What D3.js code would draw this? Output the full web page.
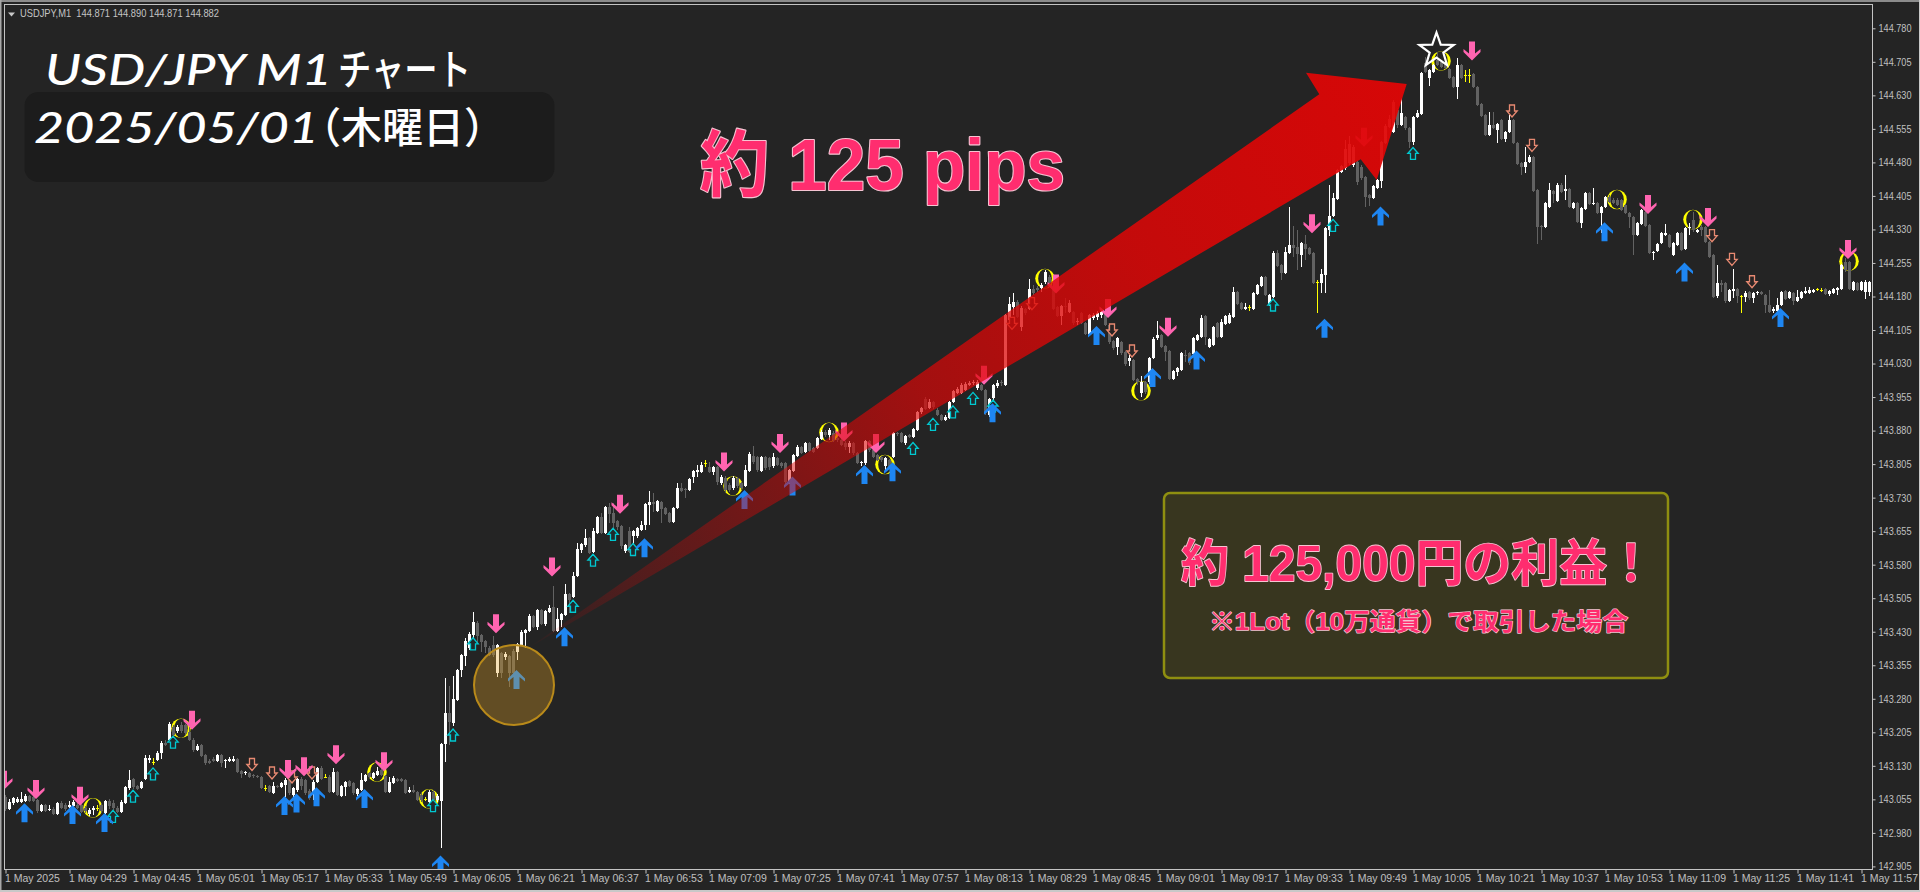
<!DOCTYPE html>
<html lang="ja"><head><meta charset="utf-8"><title>USD/JPY M1</title>
<script src="https://cdn.jsdelivr.net/npm/d3@7"></script>
<style>html,body{margin:0;padding:0;background:#242424;overflow:hidden}svg{display:block}</style>
</head><body><svg id="c" width="1920" height="892"></svg>
<script>
const priceTicks=[144.780,144.705,144.630,144.555,144.480,144.405,144.330,144.255,144.180,144.105,144.030,143.955,143.880,143.805,143.730,143.655,143.580,143.505,143.430,143.355,143.280,143.205,143.130,143.055,142.980,142.905];
const timeLabels=["1 May 2025","1 May 04:29","1 May 04:45","1 May 05:01","1 May 05:17","1 May 05:33","1 May 05:49","1 May 06:05","1 May 06:21","1 May 06:37","1 May 06:53","1 May 07:09","1 May 07:25","1 May 07:41","1 May 07:57","1 May 08:13","1 May 08:29","1 May 08:45","1 May 09:01","1 May 09:17","1 May 09:33","1 May 09:49","1 May 10:05","1 May 10:21","1 May 10:37","1 May 10:53","1 May 11:09","1 May 11:25","1 May 11:41","1 May 11:57"];
const candleKinds=("gwwwwwgggw gwgwggwwgg gwwygwgggw wwggwwwyww gwgwggggwg gggwgwwwgg wggggygwgw wgwwgggwwg ygwgwwggww wgwwggwwgg gwgggywgww wgwwwwwwgg gggwgwggww wwwgwggww w".replace(/ /g,"").slice(0,0)+
"gwwwwwgggw gwgwggwwgg gwwygwgggw wwggwwwyww gwgwggggwg gggwgwwwgg wggggygwgw wgwwgggwwg ygwgwwggww wgwwggwwgg gwgggywgww wgwwwwwwgg ggwgwwgww".slice(0,0)+
"gwwwwwgggw gwgwggwwgg gwwygwgggw wwggwwwyww gwgwggggwg gggwgwwwgg wggggygwgw wgwwgggwwg ygwgwwggww wgwwggwwgg gwgggywgww wgwwwwwwgg gggwgwggww wwgwgwwgww wgwwwwgwwg wggggwgwww wwgwgggwwg gwwwwygwgw ggwggwwggw ggwgggwwwg wggwwgwggg gwggwwgggg wgwggwgwww gwgggwwwww wwwwggwwwg wwwgwgwggw wgggwgwgwg gwwwwggg wg gwggwgwwwg ggwwwggwww gwwgwwwwgg wywwwgwwgg wwggwgggyw wwwwwwwwgg ggwwwwwwgw ggwwwgwwgg gggwgyyggg gwgwgwwggg wwgggwwgwg wgwgwwgwgw wggggggg ww ggwwwwgwwg wwgwgggg wg gwwgywgwwg ggwwwgwgww wwwyygwwww ggwgwww").replace(/ /g,"").split("");
const bodyTops=[143.060,143.049,143.058,143.056,143.056,143.062,143.062,143.060,143.053,143.042,
143.042,143.033,143.033,143.047,143.047,143.042,143.042,143.049,143.042,143.042,
143.035,143.031,143.035,143.035,143.042,143.051,143.051,143.047,143.035,143.049,
143.082,143.098,143.100,143.085,143.094,143.147,143.147,143.138,143.158,143.181,
143.181,143.223,143.217,143.217,143.221,143.221,143.205,143.188,143.174,143.176,
143.154,143.141,143.145,143.154,143.154,143.143,143.145,143.145,143.145,143.118,
143.116,143.114,143.109,143.107,143.105,143.080,143.085,143.085,143.085,143.091,
143.098,143.098,143.080,143.100,143.100,143.098,143.073,143.094,143.125,143.125,
143.105,143.105,143.116,143.116,143.085,143.094,143.096,143.091,143.078,143.098,
143.109,143.114,143.114,143.118,143.120,143.107,143.094,143.103,143.100,143.100,
143.098,143.076,143.076,143.071,143.065,143.056,143.071,143.071,143.062,143.179,
143.248,143.248,143.279,143.344,143.378,143.409,143.425,143.452,143.449,143.422,
143.409,143.393,143.400,143.400,143.382,143.380,143.376,143.387,143.402,143.429,
143.434,143.465,143.465,143.478,143.478,143.476,143.483,143.485,143.458,143.470,
143.514,143.514,143.554,143.615,143.626,143.639,143.639,143.655,143.686,143.686,
143.709,143.709,143.695,143.677,143.666,143.624,143.655,143.655,143.662,143.669,
143.716,143.720,143.720,143.722,143.720,143.707,143.695,143.707,143.751,143.751,
143.749,143.771,143.789,143.792,143.803,143.807,143.798,143.798,143.798,143.776,
143.774,143.758,143.774,143.774,143.763,143.792,143.827,143.823,143.821,143.821,
143.821,143.818,143.821,143.818,143.807,143.807,143.792,143.825,143.843,143.843,
143.852,143.852,143.841,143.863,143.877,143.877,143.881,143.874,143.863,143.859,
143.852,143.852,143.852,143.830,143.810,143.857,143.857,143.836,143.825,143.821,
143.818,143.814,143.874,143.874,143.874,143.868,143.870,143.883,143.921,143.930,
143.950,143.944,143.944,143.926,143.915,143.910,143.944,143.968,143.973,143.982,
143.984,143.986,143.988,143.988,143.982,143.971,143.950,143.982,143.986,143.988,
144.138,144.163,144.167,144.167,144.154,144.152,144.196,144.196,144.199,144.205,
144.235,144.223,144.210,144.156,144.158,144.158,144.165,144.145,144.125,144.143,
144.120,144.138,144.138,144.143,144.145,144.143,144.116,144.080,144.087,144.078,
144.056,144.042,144.038,143.995,143.988,143.988,144.042,144.085,144.094,144.094,
144.069,144.058,144.013,144.020,144.053,144.049,144.053,144.087,144.094,144.132,
144.136,144.085,144.111,144.120,144.123,144.136,144.138,144.190,144.190,144.165,
144.156,144.156,144.188,144.205,144.223,144.223,144.183,144.277,144.277,144.250,
144.279,144.295,144.295,144.290,144.299,144.297,144.288,144.277,144.212,144.230,
144.333,144.360,144.400,144.463,144.472,144.510,144.521,144.514,144.481,144.469,
144.447,144.407,144.427,144.440,144.525,144.561,144.577,144.615,144.597,144.590,
144.581,144.557,144.581,144.590,144.680,144.702,144.686,144.698,144.709,144.704,
144.702,144.689,144.671,144.698,144.698,144.675,144.675,144.677,144.648,144.610,
144.586,144.563,144.563,144.566,144.575,144.548,144.575,144.575,144.523,144.478,
144.481,144.492,144.492,144.418,144.337,144.389,144.418,144.416,144.429,144.429,
144.420,144.420,144.389,144.389,144.378,144.411,144.411,144.389,144.389,144.380,
144.402,144.402,144.396,144.396,144.396,144.384,144.366,144.358,144.344,144.373,
144.369,144.340,144.279,144.297,144.322,144.322,144.317,144.299,144.322,144.322,
144.333,144.335,144.351,144.328,144.335,144.335,144.302,144.273,144.210,144.210,
144.210,144.194,144.196,144.196,144.181,144.188,144.190,144.188,144.190,144.190,
144.183,144.161,144.152,144.161,144.190,144.192,144.190,144.188,144.179,144.190,
144.192,144.194,144.194,144.196,144.194,144.196,144.192,144.196,144.199,144.250,
144.257,144.257,144.212,144.210,144.212,144.212,144.212];
const bodyBottoms=[143.033,143.033,143.047,143.049,143.049,143.051,143.051,143.051,143.029,143.029,
143.029,143.031,143.022,143.022,143.035,143.033,143.038,143.040,143.035,143.026,
143.029,143.022,143.031,143.035,143.029,143.024,143.040,143.035,143.026,143.026,
143.047,143.080,143.082,143.078,143.080,143.100,143.143,143.138,143.143,143.158,
143.176,143.188,143.199,143.208,143.208,143.203,143.188,143.165,143.165,143.152,
143.136,143.136,143.141,143.141,143.136,143.141,143.141,143.141,143.116,143.112,
143.114,143.105,143.107,143.105,143.080,143.080,143.071,143.069,143.082,143.082,
143.087,143.069,143.065,143.076,143.085,143.069,143.058,143.071,143.094,143.100,
143.105,143.071,143.071,143.065,143.062,143.082,143.085,143.069,143.067,143.076,
143.096,143.105,143.103,143.109,143.109,143.071,143.071,143.091,143.096,143.096,
143.069,143.071,143.071,143.053,143.053,143.056,143.049,143.053,143.053,143.051,
143.179,143.228,143.226,143.277,143.344,143.376,143.393,143.422,143.420,143.407,
143.396,143.378,143.378,143.337,143.337,143.373,143.337,143.337,143.385,143.400,
143.427,143.431,143.440,143.440,143.447,143.447,143.474,143.431,143.431,143.456,
143.467,143.501,143.507,143.554,143.613,143.624,143.606,143.608,143.651,143.651,
143.651,143.693,143.673,143.664,143.622,143.610,143.608,143.644,143.644,143.657,
143.669,143.713,143.716,143.700,143.704,143.693,143.675,143.675,143.707,143.745,
143.747,143.747,143.776,143.787,143.787,143.807,143.787,143.787,143.765,143.763,
143.747,143.747,143.751,143.756,143.751,143.756,143.789,143.810,143.792,143.789,
143.796,143.798,143.801,143.803,143.801,143.765,143.765,143.789,143.823,143.830,
143.832,143.834,143.832,143.841,143.861,143.870,143.870,143.859,143.859,143.848,
143.843,143.843,143.830,143.807,143.807,143.807,143.836,143.821,143.814,143.814,
143.801,143.798,143.821,143.872,143.854,143.852,143.865,143.865,143.881,143.921,
143.928,143.930,143.933,143.915,143.903,143.903,143.908,143.944,143.964,143.964,
143.971,143.982,143.986,143.975,143.971,143.919,143.915,143.953,143.980,143.986,
143.982,144.127,144.156,144.134,144.111,144.143,144.152,144.188,144.194,144.199,
144.212,144.210,144.152,144.136,144.136,144.156,144.145,144.120,144.123,144.120,
144.096,144.096,144.132,144.134,144.138,144.116,144.078,144.065,144.067,144.053,
144.029,144.035,143.993,143.988,143.964,143.966,143.988,144.042,144.087,144.067,
144.056,143.995,143.995,144.011,144.015,144.047,144.031,144.051,144.082,144.089,
144.089,144.067,144.071,144.089,144.089,144.118,144.120,144.134,144.163,144.152,
144.152,144.156,144.152,144.185,144.203,144.183,144.161,144.179,144.248,144.232,
144.232,144.277,144.288,144.275,144.273,144.286,144.275,144.210,144.212,144.210,
144.228,144.328,144.360,144.398,144.458,144.467,144.478,144.474,144.436,144.445,
144.402,144.400,144.400,144.422,144.438,144.523,144.559,144.548,144.563,144.563,
144.557,144.525,144.525,144.581,144.588,144.682,144.668,144.682,144.698,144.693,
144.691,144.668,144.648,144.648,144.668,144.675,144.675,144.648,144.608,144.584,
144.541,144.541,144.557,144.552,144.532,144.532,144.548,144.523,144.476,144.469,
144.469,144.481,144.416,144.335,144.335,144.335,144.380,144.409,144.393,144.413,
144.416,144.380,144.378,144.346,144.344,144.375,144.387,144.387,144.366,144.366,
144.380,144.391,144.389,144.384,144.373,144.366,144.358,144.317,144.317,144.342,
144.337,144.277,144.277,144.282,144.299,144.317,144.290,144.273,144.295,144.284,
144.286,144.333,144.328,144.324,144.328,144.302,144.268,144.179,144.181,144.205,
144.170,144.170,144.192,144.181,144.181,144.179,144.176,144.176,144.188,144.185,
144.161,144.145,144.147,144.147,144.161,144.174,144.176,144.170,144.170,144.176,
144.188,144.188,144.190,144.196,144.194,144.185,144.185,144.188,144.194,144.196,
144.239,144.196,144.194,144.194,144.194,144.190,144.190];
const highs=[143.065,143.056,143.060,143.060,143.071,143.067,143.065,143.065,143.056,143.044,
143.044,143.042,143.038,143.049,143.051,143.047,143.051,143.053,143.047,143.044,
143.040,143.035,143.040,143.042,143.047,143.053,143.056,143.053,143.040,143.053,
143.085,143.120,143.103,143.087,143.096,143.154,143.154,143.147,143.163,143.185,
143.188,143.228,143.221,143.221,143.228,143.223,143.221,143.192,143.179,143.179,
143.156,143.145,143.149,143.156,143.156,143.145,143.149,143.152,143.147,143.120,
143.118,143.116,143.112,143.109,143.107,143.087,143.087,143.094,143.087,143.094,
143.103,143.103,143.082,143.103,143.105,143.100,143.078,143.098,143.127,143.129,
143.112,143.109,143.125,143.118,143.087,143.096,143.098,143.094,143.080,143.114,
143.112,143.116,143.116,143.127,143.125,143.109,143.105,143.107,143.103,143.103,
143.100,143.082,143.087,143.073,143.069,143.060,143.076,143.076,143.067,143.181,
143.326,143.308,143.331,143.346,143.380,143.416,143.429,143.474,143.454,143.425,
143.411,143.398,143.420,143.402,143.384,143.384,143.378,143.391,143.405,143.434,
143.436,143.470,143.467,143.481,143.481,143.478,143.490,143.532,143.483,143.472,
143.537,143.516,143.563,143.628,143.628,143.660,143.642,143.662,143.689,143.695,
143.711,143.718,143.718,143.680,143.669,143.626,143.664,143.657,143.664,143.677,
143.718,143.745,143.740,143.724,143.722,143.709,143.698,143.709,143.763,143.763,
143.751,143.774,143.792,143.803,143.810,143.814,143.810,143.801,143.801,143.780,
143.778,143.763,143.778,143.776,143.765,143.803,143.832,143.845,143.823,143.823,
143.823,143.821,143.830,143.821,143.810,143.810,143.794,143.827,143.848,143.845,
143.854,143.854,143.843,143.865,143.881,143.881,143.886,143.879,143.865,143.863,
143.857,143.857,143.854,143.832,143.812,143.859,143.859,143.839,143.827,143.823,
143.821,143.816,143.877,143.877,143.877,143.870,143.872,143.886,143.924,143.933,
143.955,143.950,143.946,143.930,143.917,143.915,143.946,143.971,143.977,143.986,
143.988,143.991,143.993,143.993,143.984,143.973,143.953,143.984,143.993,143.993,
144.141,144.179,144.188,144.172,144.158,144.154,144.219,144.205,144.203,144.210,
144.239,144.228,144.212,144.158,144.161,144.176,144.172,144.147,144.132,144.145,
144.123,144.141,144.143,144.147,144.150,144.145,144.118,144.082,144.089,144.080,
144.058,144.049,144.040,143.997,144.002,143.991,144.044,144.089,144.125,144.096,
144.071,144.060,144.015,144.022,144.056,144.060,144.056,144.089,144.096,144.138,
144.138,144.087,144.114,144.123,144.129,144.138,144.143,144.201,144.192,144.167,
144.165,144.161,144.190,144.208,144.226,144.226,144.185,144.281,144.284,144.252,
144.290,144.380,144.337,144.328,144.302,144.317,144.290,144.279,144.217,144.241,
144.335,144.429,144.411,144.465,144.474,144.530,144.539,144.519,144.483,144.474,
144.449,144.409,144.429,144.443,144.528,144.566,144.586,144.619,144.601,144.624,
144.584,144.559,144.584,144.597,144.682,144.715,144.689,144.700,144.727,144.709,
144.704,144.691,144.673,144.713,144.700,144.686,144.689,144.680,144.651,144.613,
144.588,144.592,144.592,144.568,144.577,144.550,144.586,144.577,144.525,144.481,
144.514,144.496,144.494,144.420,144.340,144.391,144.434,144.418,144.434,144.434,
144.451,144.422,144.391,144.391,144.380,144.413,144.413,144.422,144.391,144.382,
144.405,144.407,144.400,144.400,144.398,144.387,144.369,144.360,144.346,144.375,
144.371,144.342,144.281,144.299,144.324,144.342,144.320,144.302,144.324,144.324,
144.335,144.344,144.369,144.331,144.340,144.337,144.304,144.275,144.250,144.217,
144.212,144.196,144.241,144.199,144.183,144.192,144.192,144.190,144.192,144.192,
144.185,144.194,144.156,144.176,144.192,144.194,144.192,144.190,144.194,144.192,
144.201,144.201,144.196,144.199,144.199,144.199,144.194,144.199,144.201,144.252,
144.266,144.259,144.214,144.212,144.214,144.217,144.214];
const lows=[143.029,143.031,143.042,143.047,143.047,143.049,143.049,143.049,143.024,143.026,
143.026,143.029,143.020,143.020,143.033,143.029,143.035,143.035,143.033,143.024,
143.024,143.018,143.020,143.029,143.024,143.022,143.033,143.031,143.024,143.024,
143.044,143.076,143.078,143.076,143.078,143.098,143.136,143.132,143.141,143.145,
143.174,143.185,143.194,143.203,143.203,143.199,143.185,143.161,143.163,143.149,
143.132,143.134,143.138,143.138,143.127,143.125,143.138,143.138,143.114,143.103,
143.109,143.103,143.103,143.103,143.078,143.073,143.069,143.067,143.080,143.080,
143.060,143.065,143.060,143.071,143.076,143.065,143.053,143.053,143.091,143.098,
143.103,143.069,143.069,143.062,143.060,143.062,143.082,143.065,143.062,143.073,
143.094,143.103,143.100,143.107,143.107,143.069,143.069,143.089,143.094,143.094,
143.067,143.069,143.069,143.051,143.049,143.051,143.047,143.049,143.049,142.946,
143.139,143.176,143.219,143.275,143.329,143.353,143.389,143.405,143.405,143.385,
143.382,143.376,143.373,143.329,143.326,143.367,143.306,143.335,143.367,143.398,
143.393,143.429,143.438,143.434,143.445,143.443,143.472,143.429,143.429,143.440,
143.465,143.472,143.505,143.552,143.606,143.619,143.604,143.606,143.648,143.648,
143.648,143.673,143.653,143.657,143.615,143.606,143.606,143.617,143.639,143.655,
143.657,143.669,143.698,143.698,143.673,143.691,143.673,143.673,143.704,143.742,
143.729,143.745,143.763,143.776,143.785,143.798,143.785,143.780,143.758,143.758,
143.742,143.742,143.747,143.751,143.747,143.754,143.787,143.805,143.787,143.787,
143.792,143.792,143.796,143.801,143.796,143.760,143.760,143.787,143.821,143.827,
143.830,143.832,143.830,143.839,143.859,143.865,143.859,143.854,143.854,143.845,
143.836,143.830,143.825,143.805,143.801,143.803,143.832,143.818,143.812,143.810,
143.792,143.796,143.818,143.868,143.852,143.848,143.863,143.863,143.879,143.917,
143.926,143.928,143.928,143.912,143.901,143.901,143.906,143.941,143.962,143.962,
143.968,143.980,143.982,143.971,143.968,143.915,143.910,143.948,143.975,143.980,
143.980,144.125,144.138,144.132,144.102,144.138,144.150,144.183,144.190,144.190,
144.208,144.205,144.150,144.134,144.116,144.143,144.143,144.116,144.116,144.118,
144.094,144.094,144.127,144.127,144.132,144.114,144.073,144.060,144.049,144.049,
144.024,144.024,143.991,143.982,143.955,143.962,143.984,144.040,144.082,144.065,
144.035,143.993,143.993,144.002,144.013,144.033,144.026,144.047,144.080,144.087,
144.071,144.065,144.069,144.087,144.087,144.116,144.118,144.132,144.161,144.150,
144.150,144.147,144.150,144.183,144.201,144.181,144.158,144.176,144.246,144.217,
144.230,144.275,144.268,144.239,144.246,144.261,144.273,144.208,144.143,144.188,
144.188,144.315,144.358,144.396,144.456,144.463,144.474,144.469,144.429,144.440,
144.380,144.382,144.398,144.420,144.422,144.521,144.557,144.545,144.557,144.561,
144.552,144.512,144.519,144.579,144.586,144.680,144.651,144.680,144.695,144.691,
144.689,144.666,144.646,144.621,144.666,144.660,144.657,144.646,144.606,144.581,
144.539,144.539,144.554,144.523,144.530,144.525,144.545,144.521,144.474,144.451,
144.456,144.478,144.413,144.297,144.306,144.333,144.378,144.389,144.391,144.411,
144.396,144.378,144.375,144.344,144.333,144.373,144.384,144.384,144.364,144.322,
144.378,144.389,144.387,144.382,144.371,144.364,144.333,144.273,144.315,144.340,
144.335,144.275,144.261,144.279,144.297,144.315,144.288,144.270,144.293,144.281,
144.284,144.317,144.324,144.322,144.315,144.299,144.266,144.176,144.176,144.190,
144.165,144.167,144.176,144.165,144.143,144.167,144.172,144.165,144.183,144.183,
144.143,144.143,144.143,144.145,144.158,144.172,144.174,144.161,144.167,144.174,
144.185,144.185,144.188,144.192,144.190,144.183,144.181,144.185,144.183,144.194,
144.235,144.194,144.192,144.192,144.192,144.174,144.181];
const blueUpBars=[5,17,25,70,73,78,90,109,128,140,160,185,197,215,222,247,273,287,298,330,344,400,420,444];
const blueUpPrices=[143.025,143.021,143.003,143.041,143.047,143.061,143.057,142.908,143.323,143.419,143.618,143.726,143.756,143.782,143.788,143.920,144.093,143.999,144.038,144.109,144.360,144.325,144.235,144.133];
const pinkDownBars=[0,8,19,47,71,75,83,95,123,137,154,180,194,210,218,245,263,276,291,327,340,367,411,426,461];
const pinkDownPrices=[143.098,143.077,143.062,143.232,143.122,143.128,143.155,143.139,143.448,143.575,143.715,143.810,143.851,143.877,143.851,144.004,144.208,144.153,144.111,144.343,144.536,144.729,144.386,144.357,144.285];
const cyanUpBars=[27,32,37,42,107,112,117,142,147,152,157,227,232,237,242,247,317,332,352];
const cyanUpPrices=[143.017,143.062,143.112,143.183,143.041,143.199,143.403,143.487,143.590,143.648,143.614,143.840,143.894,143.922,143.952,143.935,144.161,144.339,144.500];
const salmonDownBars=[62,67,72,77,252,257,277,282,377,382,427,432,437];
const salmonDownPrices=[143.133,143.114,143.105,143.114,144.120,144.164,144.105,144.058,144.595,144.518,144.316,144.263,144.213];
const yellowBars=[22,44,93,106,182,206,220,260,284,359,403,422,461];
const yellowPrices=[143.036,143.214,143.116,143.056,143.756,143.876,143.804,144.220,143.969,144.707,144.397,144.352,144.259];

const svg=d3.select("#c");
const x=d3.scaleLinear().domain([0,464]).range([5.5,1861.5]);
const y=d3.scaleLinear().domain([142.905,144.780]).range([866.4,28.3]);
const defs=svg.append("defs");
defs.append("clipPath").attr("id","plot").append("rect").attr("x",5).attr("y",5).attr("width",1867).attr("height",864);
const grad=defs.append("linearGradient").attr("id","redArrow").attr("gradientUnits","userSpaceOnUse")
 .attr("x1",530).attr("y1",647).attr("x2",1406).attr("y2",84);
[[0,0.04],[0.1,0.22],[0.25,0.42],[0.45,0.68],[0.7,0.86],[1,0.96]].forEach(s=>grad.append("stop").attr("offset",s[0]).attr("stop-color","#de0606").attr("stop-opacity",s[1]));

svg.append("rect").attr("width",1920).attr("height",892).attr("fill","#242424");
// window edges
svg.append("rect").attr("x",0).attr("y",0).attr("width",1920).attr("height",2).attr("fill","#8c8c8c");
svg.append("rect").attr("x",0).attr("y",0).attr("width",1.5).attr("height",892).attr("fill","#a8a8a8");
svg.append("rect").attr("x",0).attr("y",890).attr("width",1920).attr("height",2).attr("fill","#c8c8c8");
svg.append("rect").attr("x",1919).attr("y",0).attr("width",1).attr("height",892).attr("fill","#c8c8c8");
// frame
svg.append("path").attr("d","M4.5 869.5V4.5H1872.5V869.5H4.5").attr("fill","none").attr("stroke","#c4c4c4").attr("stroke-width",1).attr("shape-rendering","crispEdges");

const plot=svg.append("g").attr("clip-path","url(#plot)");
// date backing panel
plot.append("rect").attr("x",24.5).attr("y",92).attr("width",530).attr("height",90).attr("rx",14).attr("fill","#1c1c1c");

const yellowG=plot.append("g");
yellowBars.forEach((b,i)=>{
  const cx=x(b)-0.5,cy=y(yellowPrices[i]);
  yellowG.append("circle").attr("cx",cx).attr("cy",cy).attr("r",9.8).attr("fill","#ffff00");
  yellowG.append("ellipse").attr("cx",cx).attr("cy",cy).attr("rx",6.8).attr("ry",9.6).attr("fill","#242424");
});

const kindColor={w:"#ffffff",g:"#626262",y:"#ffff00"};
const candles=plot.append("g").attr("shape-rendering","crispEdges");
const idx=d3.range(bodyTops.length);
candles.selectAll("rect.w").data(idx).join("rect").attr("class","w")
 .attr("x",i=>x(i)-0.5).attr("width",1)
 .attr("y",i=>Math.round(y(highs[i]))).attr("height",i=>Math.max(1,Math.round(y(lows[i]))-Math.round(y(highs[i]))))
 .attr("fill",i=>kindColor[candleKinds[i]]);
candles.selectAll("rect.b").data(idx).join("rect").attr("class","b")
 .attr("x",i=>x(i)-1.5).attr("width",3)
 .attr("y",i=>Math.round(y(bodyTops[i]))).attr("height",i=>Math.max(1,Math.round(y(bodyBottoms[i]))-Math.round(y(bodyTops[i]))))
 .attr("fill",i=>kindColor[candleKinds[i]])
 .attr("width",i=>candleKinds[i]==="y"?3:3);

const bigUp="M0-9.5L8.5-1V2L3-2.5V9.5H-3V-2.5L-8.5 2V-1Z";
const bigDown="M0 9.5L8.5 1V-2L3 2.5V-9.5H-3V2.5L-8.5-2V1Z";
const smallUp="M0-6L5.2 0H2.5V6H-2.5V0H-5.2Z";
const smallDown="M0 6L5.2 0H2.5V-6H-2.5V0H-5.2Z";
function marks(bars,prices,dx,d,fill,stroke,sw){
  const g=plot.append("g");
  bars.forEach((b,i)=>g.append("path").attr("d",d).attr("transform",`translate(${x(b)+dx},${y(prices[i])})`)
    .attr("fill",fill).attr("stroke",stroke).attr("stroke-width",sw));
}
marks(cyanUpBars,cyanUpPrices,-0.5,smallUp,"#1f2a2c","#00c8d0",1.3);
marks(salmonDownBars,salmonDownPrices,-1.5,smallDown,"#2a2424","#e88a72",1.3);
marks(pinkDownBars,pinkDownPrices,-1.5,bigDown,"#ff64b0","none",0);
marks(blueUpBars,blueUpPrices,-1,bigUp,"#1e86f2","none",0);

// large red arrow
const red=[[530,647],[1319.3,94.3],[1306,72.7],[1406.7,84],[1376.7,180],[1360.7,159.3]];
svg.append("polygon").attr("points",red.map(p=>p.join(",")).join(" ")).attr("fill","url(#redArrow)");
// orange circle
svg.append("circle").attr("cx",514).attr("cy",685).attr("r",40).attr("fill","#e0a224").attr("fill-opacity",0.33).attr("stroke","#b98a1a").attr("stroke-width",2);
// star
const starPts=d3.range(10).map(k=>{const r=k%2?7.2:18,a=-Math.PI/2+k*Math.PI/5;return [1436.5+r*Math.cos(a),50.5+r*Math.sin(a)].join(",");}).join(" ");
svg.append("polygon").attr("points",starPts).attr("fill","none").attr("stroke","#ffffff").attr("stroke-width",2.2);

// axes
const fam='"Liberation Sans",Arial,sans-serif';
const yAxis=svg.append("g").attr("transform","translate(1872.5,0)").call(d3.axisRight(y).tickValues(priceTicks).tickSize(3).tickPadding(3).tickFormat(d3.format(".3f")));
yAxis.select(".domain").remove();
yAxis.selectAll("line").attr("stroke","#c4c4c4");
yAxis.selectAll("text").attr("fill","#c0c0c0").attr("font-family",fam).attr("font-size",10.5).attr("textLength",33).attr("lengthAdjust","spacingAndGlyphs");
const xAxis=svg.append("g").attr("transform","translate(0,869.5)").call(d3.axisBottom(x).tickValues(timeLabels.map((_,i)=>i*16)).tickSize(4).tickFormat((_,i)=>timeLabels[i]));
xAxis.select(".domain").remove();
xAxis.selectAll("line").attr("stroke","#c4c4c4");
xAxis.selectAll("text").attr("fill","#c0c0c0").attr("font-family",fam).attr("font-size",10.5).attr("text-anchor","start").attr("x",-1).attr("y",5).attr("dy","0.71em");

// header
svg.append("path").attr("d","M8 12.5H15L11.5 16.5Z").attr("fill","#c8c8c8");
svg.append("text").attr("x",20).attr("y",16.5).attr("fill","#c4c4c4").attr("font-family",fam).attr("font-size",10.5).attr("textLength",199).attr("lengthAdjust","spacingAndGlyphs").attr("xml:space","preserve").text("USDJPY,M1  144.871 144.890 144.871 144.882");

// titles
const cjk='"Noto Sans CJK JP","Noto Sans",sans-serif';
const hand='"Lato","Open Sans",sans-serif';
function hw(tx,ty,size,len,latin,jp,jx,jlen){
  svg.append("text").attr("x",tx).attr("y",ty).attr("fill","#fff").attr("font-family",hand).attr("font-style","italic").attr("font-weight",500).attr("font-size",size).attr("textLength",len).attr("lengthAdjust","spacingAndGlyphs").text(latin);
  svg.append("text").attr("x",jx).attr("y",ty).attr("fill","#fff").attr("font-family",cjk).attr("font-weight",500).attr("font-size",size).attr("textLength",jlen).attr("lengthAdjust","spacingAndGlyphs").text(jp);
}
hw(45,85,42,287,"USD/JPY  M1","チャート",338,133);
hw(34,143,42,285,"2025/05/01","（木曜日）",300,205);

function pinkText(tx,ty,size,len,str,sw){
  svg.append("text").attr("x",tx).attr("y",ty).attr("fill","#ff2d6f").attr("stroke","#f5c4d2").attr("stroke-width",sw).attr("paint-order","stroke").attr("stroke-linejoin","round")
   .attr("font-family",'"Liberation Sans","Noto Sans CJK JP",sans-serif').attr("font-weight",700).attr("font-size",size).attr("textLength",len).attr("lengthAdjust","spacingAndGlyphs").text(str);
}
pinkText(700,190,72,365,"約 125 pips",2.2);
svg.append("rect").attr("x",1164).attr("y",493).attr("width",504).attr("height",185).attr("rx",6).attr("fill","#38361f").attr("stroke","#8f8f10").attr("stroke-width",2.5);
pinkText(1181,581,50,474,"約 125,000円の利益！",1.8);
pinkText(1209,630,24,419,"※1Lot（10万通貨）で取引した場合",1.4);
</script></body></html>
